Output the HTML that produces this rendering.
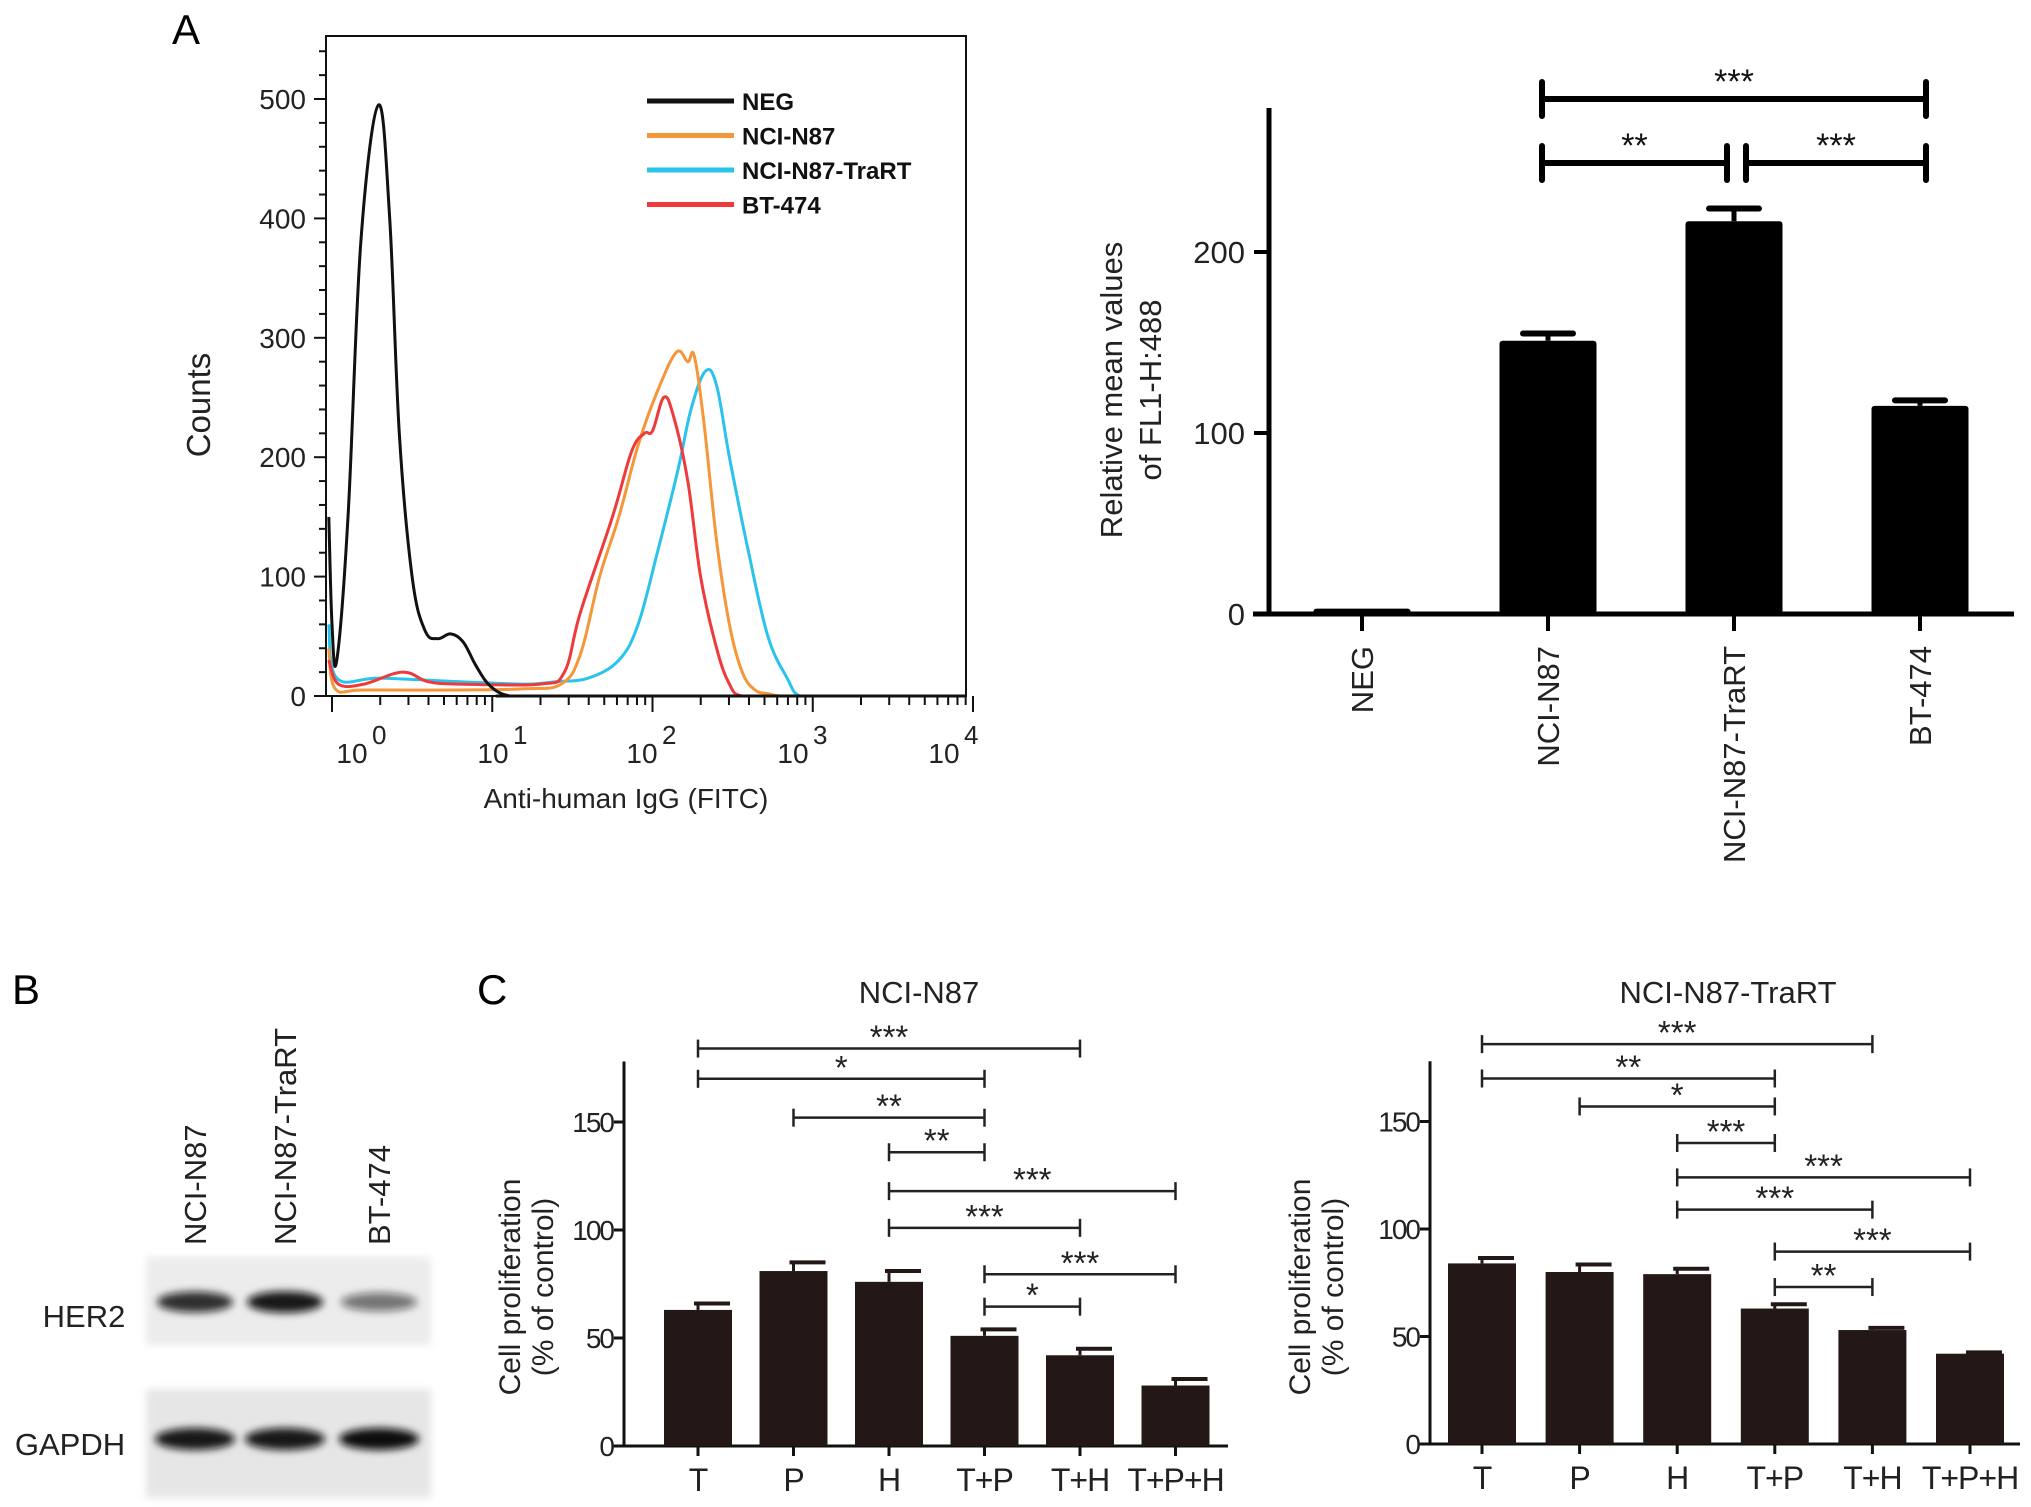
<!DOCTYPE html>
<html><head><meta charset="utf-8">
<style>
html,body{margin:0;padding:0;background:#fff;}
svg{display:block;font-family:"Liberation Sans",Arial,sans-serif;}
</style></head>
<body>
<svg id="fig" width="2031" height="1507" viewBox="0 0 2031 1507" xmlns="http://www.w3.org/2000/svg">
<defs>
<filter id="blur" x="-20%" y="-50%" width="140%" height="200%"><feGaussianBlur stdDeviation="4"/></filter>
</defs>
<g id="root"></g>
</svg>
<script>
// ---------- Flow cytometry data (x in log10 units, y counts) ----------
const flowNames = ["NEG","NCI-N87","NCI-N87-TraRT","BT-474"];
const flowColors = ["#111111","#f5963a","#29c3ec","#ee3a3a"];
const negX = [-0.02,0.0,0.03,0.10,0.18,0.29,0.36,0.42,0.50,0.58,0.66,0.74,0.82,0.90,0.99,1.11,1.3,4.0];
const negY = [150,60,30,150,380,495,400,220,100,55,48,52,45,25,8,0,0,0];
const n87X = [-0.02,0.02,0.2,0.8,1.2,1.43,1.55,1.67,1.79,1.91,2.03,2.15,2.22,2.26,2.32,2.40,2.48,2.56,2.64,2.72,2.80,3.0,4.0];
const n87Y = [40,6,5,5,6,10,35,100,150,210,255,288,280,285,230,130,60,20,5,2,0,0,0];
const traX = [-0.02,0.03,0.3,0.8,1.2,1.4,1.6,1.79,1.91,2.03,2.16,2.24,2.33,2.40,2.48,2.60,2.72,2.84,2.92,3.1,4.0];
const traY = [60,15,15,12,10,12,15,30,60,120,190,240,272,260,200,120,50,15,0,0,0];
const btX = [-0.02,0.04,0.2,0.44,0.6,0.8,1.3,1.45,1.55,1.75,1.87,1.95,2.0,2.07,2.13,2.22,2.30,2.40,2.48,2.56,2.8,4.0];
const btY = [30,10,10,20,12,10,10,20,70,150,205,220,222,250,235,180,100,40,10,0,0,0];
const flowYTicks = [0,100,200,300,400,500];
const flowXTickLabels = ["0","1","2","3","4"];

// ---------- Relative mean values bar chart ----------
const relCats = ["NEG","NCI-N87","NCI-N87-TraRT","BT-474"];
const relVals = [3,151,217,115];
const relErr = [0,4,7,3];
const relTicks = [0,100,200];
const relSig = [[1,3,"***",0],[1,2,"**",1],[2,3,"***",1]];

// ---------- Proliferation charts ----------
const proCats = ["T","P","H","T+P","T+H","T+P+H"];
const proN87 = [63,81,76,51,42,28];
const proN87Err = [3,4,5,3,3,3];
const proTra = [84,80,79,63,53,42];
const proTraErr = [2.5,3.5,2.5,2,1,0.6];
const proTicks = [0,50,100,150];
const sigN87 = [[0,4,"***",184],[0,3,"*",170],[1,3,"**",152],[2,3,"**",136],[2,5,"***",118],[2,4,"***",101],[3,5,"***",79.5],[3,4,"*",64.5]];
const sigTra = [[0,4,"***",186],[0,3,"**",170],[1,3,"*",157],[2,3,"***",140],[2,5,"***",124],[2,4,"***",109],[3,5,"***",89.5],[3,4,"**",73]];

const NS="http://www.w3.org/2000/svg";
const root=document.getElementById('root');
function mk(tag,attrs,parent){const e=document.createElementNS(NS,tag);for(const k in attrs)e.setAttribute(k,attrs[k]);(parent||root).appendChild(e);return e;}
function txt(s,attrs,parent){const e=mk('text',attrs,parent);e.textContent=s;return e;}
function smoothPath(pts){
  let d="M"+pts[0][0].toFixed(1)+","+pts[0][1].toFixed(1);
  for(let i=0;i<pts.length-1;i++){
    const p0=pts[Math.max(0,i-1)],p1=pts[i],p2=pts[i+1],p3=pts[Math.min(pts.length-1,i+2)];
    const t=0.18;
    let c1x=p1[0]+(p2[0]-p0[0])*t,c1y=p1[1]+(p2[1]-p0[1])*t;
    let c2x=p2[0]-(p3[0]-p1[0])*t,c2y=p2[1]-(p3[1]-p1[1])*t;
    const ymax=696;
    c1y=Math.min(c1y,ymax);c2y=Math.min(c2y,ymax);
    d+=`C${c1x.toFixed(1)},${c1y.toFixed(1)} ${c2x.toFixed(1)},${c2y.toFixed(1)} ${p2[0].toFixed(1)},${p2[1].toFixed(1)}`;
  }
  return d;
}

// ================= Panel A: flow =================
let e;
e=txt("A",{x:172,y:44,"font-size":42});



const fL=326,fR=966,fT=36,fB=696;
const fx=v=>332+160.25*v;
const fy=v=>696-1.194*v;
const gFlow=mk('g',{});


e=mk('rect',{x:fL,y:fT,width:fR-fL,height:fB-fT,fill:"none",stroke:"#111","stroke-width":2},gFlow);


for(let v=0;v<=540;v+=20){
  const major=v%100===0;
  e=mk('line',{x1:fL-(major?12:7),x2:fL,y1:fy(v),y2:fy(v),stroke:"#111","stroke-width":2},gFlow);
  
  
}
flowYTicks.forEach(v=>{
  e=txt(String(v),{x:fL-20,y:fy(v)+10,"font-size":28,"text-anchor":"end",fill:"#222"},gFlow);
  
  
});
for(let d=0;d<4;d++){
  for(let m=1;m<10;m++){
    const lv=d+Math.log10(m);
    e=mk('line',{x1:fx(lv),x2:fx(lv),y1:fB,y2:fB+(m===1?16:9),stroke:"#111","stroke-width":2},gFlow);
    
    
  }
}
e=mk('line',{x1:fx(4),x2:fx(4),y1:fB,y2:fB+16,stroke:"#111","stroke-width":2},gFlow);


const decLabelX=[352,493,642,793,944];
flowXTickLabels.forEach((s,i)=>{
  const g=mk('g',{},gFlow);
  
  
  txt("10",{x:decLabelX[i],y:763,"font-size":28,"text-anchor":"middle",fill:"#222"},g);
  txt(s,{x:decLabelX[i]+20,y:744,"font-size":26,fill:"#222"},g);
});
e=txt("Counts",{transform:"translate(210,405) rotate(-90)","font-size":33,"text-anchor":"middle",fill:"#222"});


e=txt("Anti-human IgG (FITC)",{x:626,y:808,"font-size":28,"text-anchor":"middle",fill:"#222"});


const series=[[negX,negY],[n87X,n87Y],[traX,traY],[btX,btY]];
const order=[2,1,3,0];
order.forEach(i=>{
  const xs=series[i][0],ys=series[i][1];
  const pts=xs.map((x,k)=>[Math.min(fx(x),fR),fy(ys[k])]);
  e=mk('path',{d:smoothPath(pts),fill:"none",stroke:flowColors[i],"stroke-width":3,"stroke-linejoin":"round"},gFlow);
  
  
});
flowNames.forEach((n,i)=>{
  const y=101+i*34.5;
  const g=mk('g',{},gFlow);
  
  
  mk('line',{x1:647,x2:734,y1:y,y2:y,stroke:flowColors[i],"stroke-width":5},g);
  txt(n,{x:742,y:y+9,"font-size":24,"font-weight":"bold",fill:"#111"},g);
});

// ================= Relative mean values bar chart =================
const gRel=mk('g',{});


const rX0=1269,rY0=614,rK=1.81;
const ry=v=>rY0-rK*v;
const rcx=i=>1362+i*186;
e=mk('line',{x1:rX0,x2:rX0,y1:108,y2:rY0,stroke:"#000","stroke-width":5},gRel);


e=mk('line',{x1:1253,x2:2014,y1:rY0,y2:rY0,stroke:"#000","stroke-width":5},gRel);


relTicks.forEach(v=>{
  e=mk('line',{x1:rX0-15,x2:rX0,y1:ry(v),y2:ry(v),stroke:"#000","stroke-width":4},gRel);
  
  
  e=txt(String(v),{x:rX0-24,y:ry(v)+11,"font-size":31,"text-anchor":"end",fill:"#222"},gRel);
  
  
});
relCats.forEach((c,i)=>{
  const cx=rcx(i),w=97;
  if(relErr[i]>0){
    e=mk('line',{x1:cx,x2:cx,y1:ry(relVals[i]),y2:ry(relVals[i]+relErr[i]),stroke:"#000","stroke-width":5},gRel);
    
    
    e=mk('line',{x1:cx-25,x2:cx+25,y1:ry(relVals[i]+relErr[i]),y2:ry(relVals[i]+relErr[i]),stroke:"#000","stroke-width":6,"stroke-linecap":"round"},gRel);
    
    
  }
  e=mk('rect',{x:cx-w/2,y:ry(relVals[i]),width:w,height:rY0-ry(relVals[i]),fill:"#000",rx:3},gRel);
  
  
  e=mk('line',{x1:cx,x2:cx,y1:rY0,y2:rY0+17,stroke:"#000","stroke-width":4},gRel);
  
  
  e=txt(c,{transform:`translate(${cx+11},646) rotate(-90)`,"font-size":31,"text-anchor":"end",fill:"#222"},gRel);
  
  
});
const relLevelY=[99,163];
relSig.forEach(s=>{
  const g=mk('g',{},gRel);
  
  
  let x1=rcx(s[0])-6,x2=rcx(s[1])+6;
  if(s[3]===1){ if(s[1]===2) x2=rcx(2)-7; if(s[0]===2) x1=rcx(2)+12; }
  const y=relLevelY[s[3]];
  mk('line',{x1:x1,x2:x2,y1:y,y2:y,stroke:"#000","stroke-width":6},g);
  mk('line',{x1:x1,x2:x1,y1:y-17,y2:y+17,stroke:"#000","stroke-width":6,"stroke-linecap":"round"},g);
  mk('line',{x1:x2,x2:x2,y1:y-17,y2:y+17,stroke:"#000","stroke-width":6,"stroke-linecap":"round"},g);
  txt(s[2],{x:(x1+x2)/2,y:y-6,"font-size":34,"text-anchor":"middle",fill:"#111"},g);
});
e=txt("Relative mean values",{transform:"translate(1122,390) rotate(-90)","font-size":31,"text-anchor":"middle",fill:"#222"});


e=txt("of FL1-H:488",{transform:"translate(1161,390) rotate(-90)","font-size":31,"text-anchor":"middle",fill:"#222"});



// ================= Panel B: blot =================
e=txt("B",{x:12,y:1004,"font-size":42});


const gBlot=mk('g',{});


const laneNames=["NCI-N87","NCI-N87-TraRT","BT-474"];
const laneX=[195,285,379];
laneNames.forEach((n,i)=>{
  e=txt(n,{transform:`translate(${laneX[i]+11},1245) rotate(-90)`,"font-size":31,fill:"#222"},gBlot);
  
  
});
e=mk('rect',{x:146,y:1257,width:285,height:88,fill:"#ececec",filter:"url(#blur)"},gBlot);


e=mk('rect',{x:146,y:1389,width:285,height:109,fill:"#e6e6e6",filter:"url(#blur)"},gBlot);


const her2Int=[0.85,0.95,0.55];
const gapInt=[0.95,0.95,1.0];
laneX.forEach((x,i)=>{
  e=mk('ellipse',{cx:x,cy:1302,rx:38,ry:7+4*her2Int[i],fill:"#111","fill-opacity":her2Int[i],filter:"url(#blur)"},gBlot);
  
  
  e=mk('ellipse',{cx:x,cy:1439,rx:40,ry:11,fill:"#0a0a0a","fill-opacity":gapInt[i],filter:"url(#blur)"},gBlot);
  
  
});
e=txt("HER2",{x:84,y:1327,"font-size":31,"text-anchor":"middle",fill:"#222"},gBlot);


e=txt("GAPDH",{x:70,y:1455,"font-size":31,"text-anchor":"middle",fill:"#222"},gBlot);



// ================= Panel C =================
e=txt("C",{x:477,y:1004,"font-size":42});



function proChart(name,title,titleX,ax,y0,k,xEnd,c0,step,vals,errs,sigs,labX){
  const g=mk('g',{});
  
  
  const py=v=>y0-k*v;
  const pcx=i=>c0+i*step;
  e=txt(title,{x:titleX,y:1003,"font-size":31,"text-anchor":"middle",fill:"#222"},g);
  
  
  e=mk('line',{x1:ax,x2:ax,y1:py(178),y2:y0,stroke:"#111","stroke-width":3},g);
  
  
  e=mk('line',{x1:ax-12,x2:xEnd,y1:y0,y2:y0,stroke:"#111","stroke-width":3},g);
  
  
  proTicks.forEach(v=>{
    e=mk('line',{x1:ax-10,x2:ax,y1:py(v),y2:py(v),stroke:"#111","stroke-width":3},g);
    
    
    e=txt(String(v),{x:ax-11,y:py(v)+10,"font-size":28,"text-anchor":"end",fill:"#222","letter-spacing":-2},g);
    
    
  });
  proCats.forEach((c,i)=>{
    const cx=pcx(i),w=68;
    e=mk('line',{x1:cx,x2:cx,y1:py(vals[i]),y2:py(vals[i]+errs[i]),stroke:"#231815","stroke-width":3},g);
    
    
    e=mk('line',{x1:cx-4,x2:cx+w/2-2,y1:py(vals[i]+errs[i]),y2:py(vals[i]+errs[i]),stroke:"#231815","stroke-width":4},g);
    
    
    e=mk('rect',{x:cx-w/2,y:py(vals[i]),width:w,height:y0-py(vals[i]),fill:"#231815"},g);
    
    
    e=mk('line',{x1:cx,x2:cx,y1:y0,y2:y0+10,stroke:"#111","stroke-width":3},g);
    
    
    e=txt(c,{x:cx,y:y0+45,"font-size":32,"text-anchor":"middle",fill:"#222","letter-spacing":-1},g);
    
    
  });
  sigs.forEach(s=>{
    const b=mk('g',{},g);
    
    
    const x1=pcx(s[0]),x2=pcx(s[1]),y=py(s[3]);
    mk('line',{x1:x1,x2:x2,y1:y,y2:y,stroke:"#222","stroke-width":2.5},b);
    mk('line',{x1:x1,x2:x1,y1:y-9,y2:y+9,stroke:"#222","stroke-width":2.5},b);
    mk('line',{x1:x2,x2:x2,y1:y-9,y2:y+9,stroke:"#222","stroke-width":2.5},b);
    txt(s[2],{x:(x1+x2)/2,y:y,"font-size":33,"text-anchor":"middle",fill:"#222"},b);
  });
  e=txt("Cell proliferation",{transform:`translate(${labX},1287) rotate(-90)`,"font-size":30,"text-anchor":"middle",fill:"#222"},g);
  
  
  e=txt("(% of control)",{transform:`translate(${labX+33},1287) rotate(-90)`,"font-size":30,"text-anchor":"middle",fill:"#222"},g);
  
  
}
proChart('proliferation-chart-nci-n87',"NCI-N87",919,624,1446,2.16,1228,698,95.5,proN87,proN87Err,sigN87,520);
proChart('proliferation-chart-nci-n87-trart',"NCI-N87-TraRT",1728,1430,1444,2.15,2020,1482,97.6,proTra,proTraErr,sigTra,1310);
</script>
</body></html>
